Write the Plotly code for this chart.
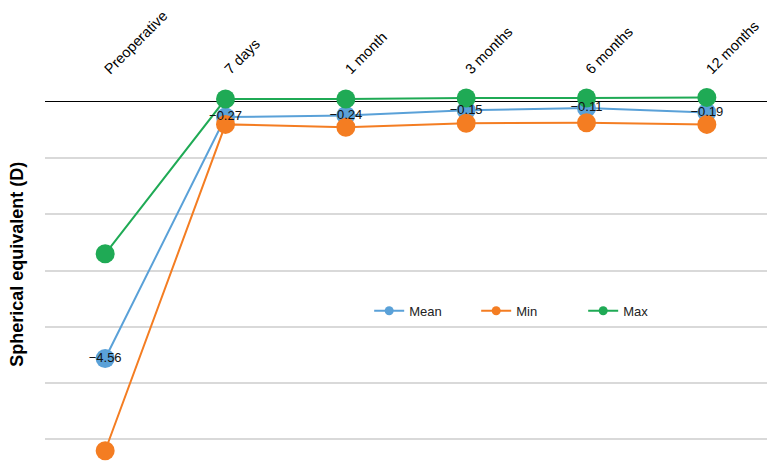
import plotly.graph_objects as go

categories = ["Preoperative", "7 days", "1 month", "3 months", "6 months", "12 months"]
mean_vals = [-4.56, -0.27, -0.24, -0.15, -0.11, -0.19]
min_vals = [-6.20, -0.40, -0.45, -0.38, -0.37, -0.40]
max_vals = [-2.70, 0.05, 0.05, 0.07, 0.07, 0.08]

series_names = ["Mean", "Min", "Max"]
colors = ["#5aa1d8", "#f47d22", "#1faa55"]

# page has an 8px body margin, so the figure is sized/positioned to compensate
W, H = 769, 461
L, R, T, B = 37, 10, 77.4, 7
plot_h = H - T - B

fig = go.Figure()
for name, vals, col in zip(series_names, [mean_vals, min_vals, max_vals], colors):
    fig.add_trace(go.Scatter(
        x=categories, y=vals, mode="lines+markers", name=name,
        line=dict(color=col, width=2),
        marker=dict(color=col, size=19),
        cliponaxis=False, showlegend=False,
    ))

# mean value labels on top
mean_text = [f"{v:.2f}".replace("-", "\u2212") for v in mean_vals]
fig.add_trace(go.Scatter(
    x=categories, y=mean_vals, mode="text", text=mean_text,
    textposition="middle center",
    textfont=dict(size=13, color="#111111", family="Liberation Sans, Arial, sans-serif"),
    cliponaxis=False, showlegend=False, hoverinfo="skip",
))

# legend entries
for name, col in zip(series_names, colors):
    fig.add_trace(go.Scatter(
        x=[None], y=[None], mode="lines+markers", name=name,
        line=dict(color=col, width=2), marker=dict(color=col, size=9),
    ))

fig.update_layout(
    width=W, height=H,
    margin=dict(l=L, r=R, t=T, b=B, autoexpand=False),
    paper_bgcolor="white", plot_bgcolor="white",
    font=dict(family="Liberation Sans, Arial, sans-serif", color="black"),
    showlegend=True,
    legend=dict(
        orientation="h", x=0.449, y=0.401, xanchor="left", yanchor="middle",
        font=dict(size=13, color="#222222"),
        entrywidth=62, entrywidthmode="pixels",
        bgcolor="rgba(0,0,0,0)",
    ),
    xaxis=dict(
        side="top", type="category", range=[-0.5, 5.5], automargin=False,
        tickangle=-45, tickfont=dict(size=14.5, color="black"),
        showgrid=False, showline=False, zeroline=False, ticks="",
        ticklabelstandoff=4,
    ),
    yaxis=dict(
        range=[-6.4, 0.3], dtick=1, tick0=0, automargin=False,
        showticklabels=False, ticks="",
        showgrid=True, gridcolor="#d9d9d9", gridwidth=1.5,
        zeroline=True, zerolinecolor="black", zerolinewidth=1,
        showline=False,
    ),
    annotations=[dict(
        text="<b>Spherical equivalent (D)</b>", textangle=-90,
        xref="paper", yref="paper", x=(9 - L) / (W - L - R), y=(H - 257 - B) / plot_h,
        xanchor="center", yanchor="middle", showarrow=False,
        font=dict(size=18, color="black"),
    )],
)

fig.write_html("out.html")
